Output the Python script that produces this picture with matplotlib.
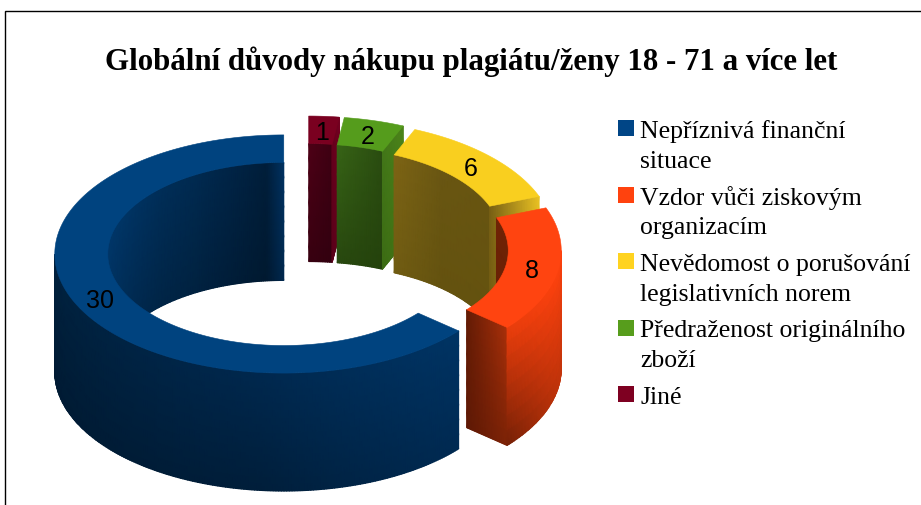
import numpy as np
import matplotlib
matplotlib.use("Agg")
import matplotlib.pyplot as plt
from matplotlib.patches import Polygon, Rectangle

title = "Globální důvody nákupu plagiátu/ženy 18 - 71 a více let"
categories = ["Nepříznivá finanční\nsituace", "Vzdor vůči ziskovým\norganizacím",
              "Nevědomost o porušování\nlegislativních norem",
              "Předraženost originálního\nzboží", "Jiné"]
values = [30, 8, 6, 2, 1]
colors = ["#004586", "#ff420e", "#ffd320", "#579d1c", "#7e0021"]
face_colors = ["#00437f", "#ff4410", "#f9cf1f", "#559c1c", "#7a0020"]

# Shading per slice: (top-row stops, bottom-row stops), left to right on screen
outer_shade = {0: ([(0, 33, 62), (0, 40, 78), (0, 52, 100)], [(0, 27, 52), (0, 30, 58), (0, 42, 82)]),
               1: ([(235, 62, 12), (255, 66, 14)], [(115, 32, 6), (195, 52, 10)])}
inner_shade = {0: ([(0, 55, 105), (0, 52, 100), (0, 49, 94), (0, 46, 88), (0, 44, 84), (0, 42, 80),
                    (0, 39, 75), (0, 36, 70), (0, 33, 64), (0, 30, 58), (0, 50, 98)],
                   [(0, 46, 88), (0, 42, 80), (0, 39, 75), (0, 37, 70), (0, 35, 67), (0, 34, 64),
                    (0, 31, 60), (0, 29, 56), (0, 27, 52), (0, 25, 48), (0, 40, 78)]),
               1: ([(112, 35, 5), (112, 35, 5)], [(100, 30, 5), (100, 30, 5)]),
               2: ([(125, 100, 20), (105, 86, 18), (103, 84, 16)], [(112, 92, 18), (100, 82, 15), (100, 82, 15)]),
               3: ([(55, 100, 22), (42, 76, 16)], [(40, 72, 15), (36, 66, 12)]),
               4: ([(78, 0, 22), (62, 0, 18)], [(56, 0, 16), (50, 0, 15)])}
end_shade = {1: ([(100, 28, 5), (170, 48, 10)], [(95, 25, 5), (125, 35, 6)]),
             2: ([(120, 96, 20), (235, 195, 35)], [(115, 92, 18), (190, 155, 28)]),
             3: ([(66, 118, 24), (76, 132, 26)], [(60, 108, 20), (68, 120, 22)]),
             4: ([(100, 0, 28), (115, 0, 32)], [(90, 0, 25), (100, 0, 28)])}

CX, CY = 307.0, 249.4
RO, RI = 229.0, 176.0
SQ = 0.52
EXPLODE = 25.6
H = 118.0

fig = plt.figure(figsize=(9.21, 5.06), dpi=100, facecolor="white")
ax = fig.add_axes([0, 0, 1, 1])
ax.set_xlim(0, 921)
ax.set_ylim(506, 0)
ax.axis("off")

ax.plot([921, 4.5, 4.5], [11.5, 11.5, 506], color="black", lw=1.0, solid_joinstyle="miter")

fracs = np.array(values, float) / sum(values) * 360.0
starts = 90.0 + np.concatenate([[0], np.cumsum(fracs)[:-1]])
ends = starts + fracs


def pt(a_deg, r, c):
    a = np.radians(a_deg)
    return c[0] + r * np.cos(a), c[1] - r * SQ * np.sin(a)


def interp_color(stops, s):
    stops = np.array(stops, float) / 255.0
    xs = np.linspace(0, 1, len(stops))
    return np.stack([np.interp(s, xs, stops[:, i]) for i in range(3)], axis=-1)


def surface(px, py, shade, z, nv=8):
    px, py = np.asarray(px), np.asarray(py)
    s = (px - px.min()) / max(px.max() - px.min(), 1e-6)
    v = np.linspace(0, 1, nv + 1)[:, None]
    X = np.repeat(px[None, :], nv + 1, axis=0)
    Y = py[None, :] + H * v
    ct, cb = interp_color(shade[0], s), interp_color(shade[1], s)
    C = ct[None, :, :] + (cb - ct)[None, :, :] * v[:, :, None]
    ax.pcolormesh(X, Y, C, shading="gouraud", zorder=z, rasterized=False)


def arc(a0, a1, r, c):
    n = max(int(abs(a1 - a0) * 1.5), 2)
    return pt(np.linspace(a0, a1, n), r, c)


label_pos = []
for k in [4, 3, 2, 1, 0]:
    a0, a1 = starts[k], ends[k]
    mid = (a0 + a1) / 2
    m = np.radians(mid)
    c = (CX + EXPLODE * np.cos(m), CY - EXPLODE * SQ * np.sin(m))
    z = 10 + (4 - k) * 5 if k else 40

    # inner wall: back half of the ring (0..180 deg, modulo 360)
    lo, hi = a0 % 360, (a0 % 360) + (a1 - a0)
    for base in (0, 360, -360):
        l, h = max(lo, base), min(hi, base + 180)
        if h > l and k in inner_shade:
            xs, ys = arc(l, h, RI, c)
            surface(xs, ys, inner_shade[k], z)
    # end face visible when its normal points to the viewer
    if k in end_shade:
        xs = np.linspace(*[pt(a0, r, c)[0] for r in (RI, RO)], 30)
        ys = np.linspace(*[pt(a0, r, c)[1] for r in (RI, RO)], 30)
        surface(xs, ys, end_shade[k], z + 1)
    # outer wall: front half (180..360)
    for base in (180, 540):
        l, h = max(lo, base), min(hi, base + 180)
        if h > l and k in outer_shade:
            xs, ys = arc(l, h, RO, c)
            surface(xs, ys, outer_shade[k], z + 2)
    # top face
    xo, yo = arc(a0, a1, RO, c)
    xi, yi = arc(a1, a0, RI, c)
    ax.add_patch(Polygon(np.c_[np.r_[xo, xi], np.r_[yo, yi]], closed=True, fc=face_colors[k],
                         ec=face_colors[k], lw=0.4, zorder=z + 3))
    label_pos.append((k, pt(mid, (RO + RI) / 2, c)))

for k, (x, y) in label_pos:
    ax.text(x, y + 2, str(values[k]), fontsize=18, family="Liberation Sans", color="black",
            ha="center", va="center", zorder=60)

ax.text(471, 61.5, title, fontsize=22.2, fontweight="bold", family="Liberation Serif",
        ha="center", va="center", color="black")

# Legend: swatch plus one text per line
for i, (name, col) in enumerate(zip(categories, colors)):
    y0 = 121 + i * 66.5
    ax.add_patch(Rectangle((618, y0), 16, 16, fc=col, ec="none", zorder=20))
    for j, line in enumerate(name.split("\n")):
        ax.text(640, y0 + 17 + j * 29.5, line, fontsize=18.5, family="Liberation Serif", color="black",
                ha="left", va="baseline", zorder=20)

fig.savefig("out.png", dpi=100, facecolor="white")
